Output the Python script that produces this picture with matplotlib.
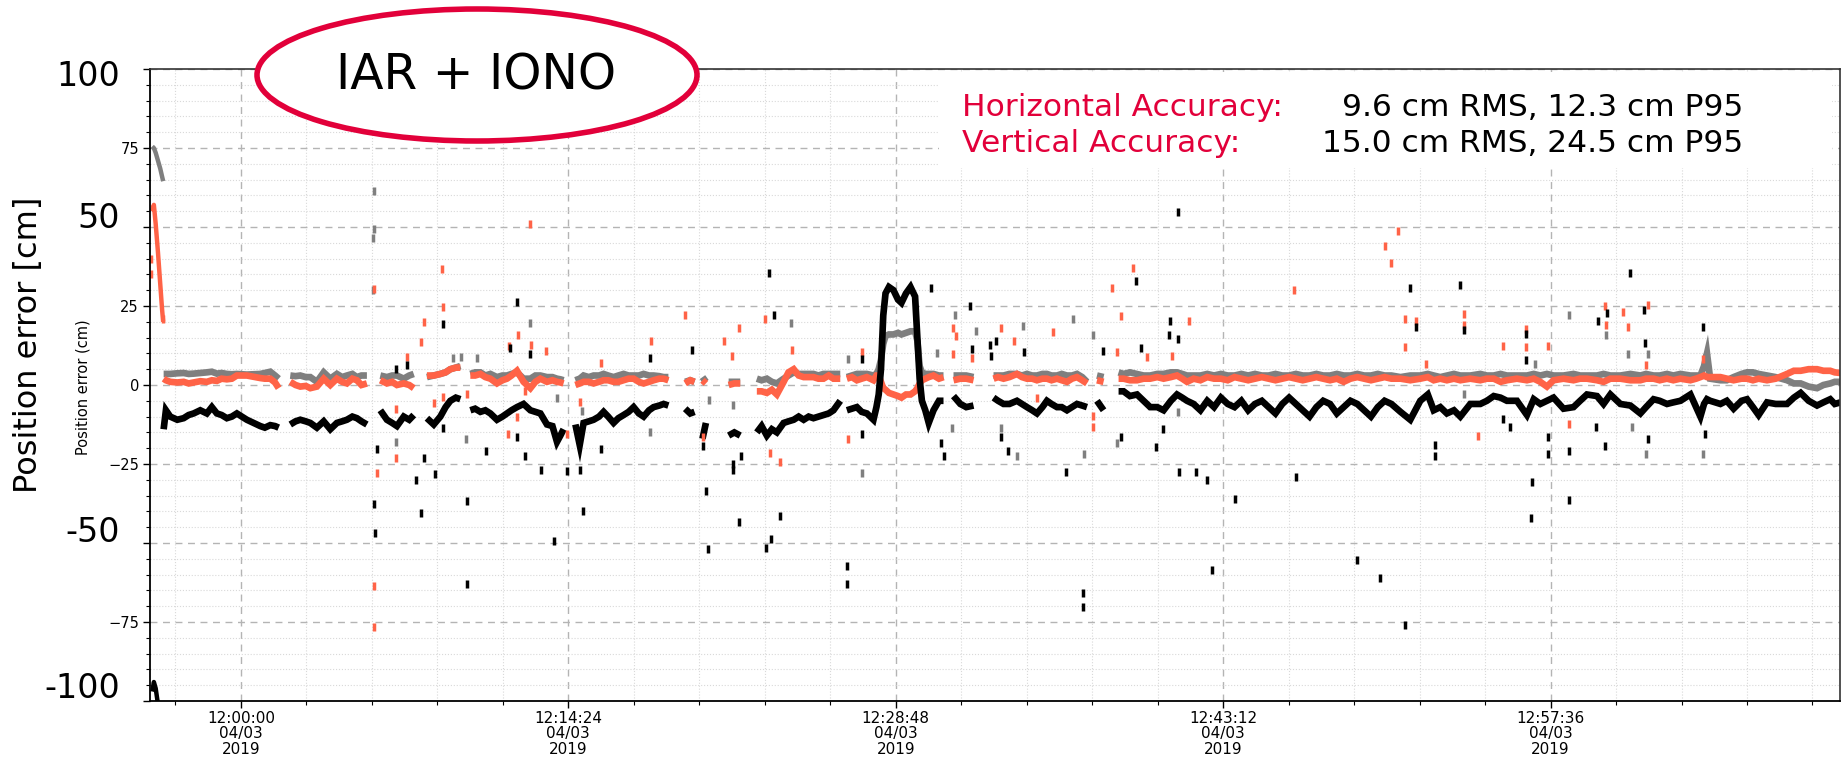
import numpy as np
import pandas as pd
import matplotlib
matplotlib.use("Agg")
import matplotlib.pyplot as plt
import matplotlib.dates as mdates
from matplotlib.patches import Ellipse, Rectangle
from matplotlib.ticker import FixedLocator, MultipleLocator, FuncFormatter

nan = np.nan
T0 = pd.Timestamp("2019-04-03 12:00:00")

# --- continuous tracks: minutes after 12:00 and error in cm (nan = no fix) ---
track_min = [
    -3.40, -3.30, -3.11, -2.80, -2.52, -2.30, -2.08, -1.79, -1.50, -1.28,
    -1.06, -0.85, -0.62, -0.40, -0.18, 0.26, 0.55, 0.85, 1.05, 1.29,
    1.50, 1.66, 1.85, 2.17, 2.40, 2.61, 2.85, 3.05, 3.34, 3.64,
    3.93, 4.22, 4.45, 4.66, 4.90, 5.10, 5.30, 5.54, 5.75, 6.13,
    6.42, 6.65, 6.86, 7.16, 7.40, 7.60, 7.80, 8.18, 8.48, 8.77,
    9.00, 9.21, 9.45, 9.65, 9.85, 10.09, 10.30, 10.53, 10.75, 10.97,
    11.26, 11.50, 11.70, 11.90, 12.14, 12.43, 12.73, 12.95, 13.17, 13.46,
    13.70, 13.90, 14.05, 14.19, 14.40, 14.71, 14.90, 15.07, 15.30, 15.51,
    15.75, 15.95, 16.15, 16.39, 16.60, 16.83, 17.05, 17.27, 17.50, 17.71,
    17.95, 18.15, 18.40, 18.59, 18.80, 19.10, 19.54, 19.76, 19.95, 20.10,
    20.30, 20.45, 20.60, 21.45, 21.70, 21.96, 22.15, 22.69, 22.90, 23.13,
    23.35, 23.57, 23.87, 24.08, 24.31, 24.53, 24.75, 24.97, 25.18, 25.40,
    25.62, 25.85, 26.06, 26.36, 26.50, 26.65, 26.87, 27.09, 27.30, 27.53,
    27.82, 27.95, 28.05, 28.15, 28.25, 28.35, 28.50, 28.70, 28.90, 29.05,
    29.25, 29.45, 29.65, 29.75, 29.85, 29.95, 30.10, 30.25, 30.46, 30.70,
    30.90, 31.10, 31.34, 31.64, 31.90, 32.22, 32.50, 33.10, 33.30, 33.54,
    33.80, 34.13, 34.35, 34.57, 34.80, 35.01, 35.25, 35.45, 35.65, 35.89,
    36.10, 36.33, 36.55, 36.77, 37.00, 37.21, 37.40, 37.65, 37.94, 38.10,
    38.60, 38.82, 39.10, 39.41, 39.70, 39.99, 40.30, 40.58, 40.90, 41.17,
    41.40, 41.61, 41.90, 42.20, 42.50, 42.80, 43.10, 43.40, 43.70, 44.00,
    44.30, 44.60, 44.90, 45.20, 45.50, 45.80, 46.10, 46.40, 46.70, 47.00,
    47.30, 47.60, 47.90, 48.20, 48.50, 48.80, 49.10, 49.40, 49.70, 50.00,
    50.30, 50.60, 51.00, 51.43, 51.87, 52.20, 52.46, 52.75, 53.04, 53.35,
    53.63, 54.07, 54.51, 54.80, 55.10, 55.40, 55.68, 56.12, 56.56, 56.86,
    57.15, 57.44, 57.73, 58.17, 58.61, 58.90, 59.20, 59.64, 59.93, 60.23,
    60.67, 61.11, 61.55, 61.80, 62.13, 62.40, 62.72, 63.00, 63.31, 63.75,
    64.00, 64.19, 64.35, 64.48, 64.62, 65.07, 65.35, 65.65, 66.00, 66.24,
    66.50, 66.75, 67.12, 67.50, 68.00, 68.30, 68.60, 68.95, 69.32, 69.60,
    69.90, 70.10, 70.35,
]

north_cm = [
    3.5, 3.5, 3.5, 3.7, 3.8, 3.5, 3.6, 3.8, 4.0, 4.2,
    3.6, 3.8, 3.5, 3.4, 3.5, 3.3, 3.4, 3.5, 3.8, 4.2,
    3.0, 2.0, nan, 3.0, 2.8, 3.0, 2.5, 2.5, 1.0, 4.0,
    2.0, 3.5, 2.5, 3.0, 3.5, 2.5, 3.0, 3.0, nan, 3.0,
    2.5, 3.0, 3.0, 2.0, 3.0, 3.5, nan, 2.5, 3.0, 3.5,
    4.0, 5.0, 5.5, 6.0, nan, 3.5, 4.0, 4.0, 3.0, 3.5,
    2.5, 3.0, 3.0, 3.5, 4.0, 2.0, 2.0, 3.0, 3.0, 2.5,
    2.5, 2.0, 1.8, 1.5, nan, 1.5, 2.0, 3.0, 2.5, 3.0,
    3.0, 3.5, 3.0, 2.5, 3.0, 3.5, 3.0, 3.0, 3.0, 3.5,
    3.0, 3.0, 2.8, 2.5, 2.5, nan, 1.0, 1.5, 1.0, nan,
    2.5, 1.0, nan, 1.0, 1.0, 1.0, nan, 2.0, 1.5, 2.0,
    1.0, 0.5, 2.0, 3.0, 4.0, 3.5, 3.5, 3.5, 3.5, 3.0,
    3.5, 3.5, 3.5, 3.5, nan, 2.5, 3.0, 3.5, 3.5, 3.5,
    3.0, 3.5, 5.0, 8.0, 13.0, 15.5, 16.0, 16.0, 16.5, 16.0,
    16.5, 17.0, 17.0, 14.0, 6.0, 4.0, 3.5, 3.5, 3.5, 3.0,
    3.0, nan, 3.0, 3.0, 3.0, 2.5, nan, 3.0, 3.0, 3.0,
    3.5, 3.5, 3.0, 3.5, 3.0, 3.0, 3.5, 3.5, 3.0, 3.0,
    3.5, 3.0, 3.0, 3.5, 2.5, 1.0, nan, 3.0, 2.5, nan,
    4.0, 3.5, 4.0, 3.5, 3.0, 3.0, 3.5, 3.5, 4.0, 4.0,
    3.5, 3.0, 3.0, 3.0, 3.5, 3.0, 3.5, 3.0, 3.0, 3.5,
    3.0, 3.5, 3.0, 3.0, 3.5, 3.0, 3.0, 3.5, 3.0, 3.0,
    3.5, 3.0, 3.0, 3.5, 3.0, 3.0, 3.5, 3.0, 3.0, 3.5,
    3.0, 3.0, 2.5, 3.0, 3.0, 3.5, 3.0, 2.5, 3.0, 3.5,
    3.0, 3.0, 3.5, 3.0, 3.0, 3.5, 3.0, 3.0, 3.0, 3.5,
    3.0, 3.5, 3.0, 3.0, 3.5, 3.0, 3.0, 3.0, 3.5, 3.0,
    3.0, 3.5, 3.0, 3.5, 3.0, 3.0, 3.5, 3.0, 3.5, 3.0,
    3.0, 3.0, 6.0, 10.0, 2.0, 1.5, 1.5, 2.5, 3.5, 4.0,
    4.0, 3.5, 3.0, 2.5, 1.5, 0.5, 0.5, -0.5, -1.0, 0.0,
    0.5, 1.0, 1.0,
]

east_cm = [
    2.0, 1.5, 1.0, 0.8, 1.0, 0.5, 0.8, 1.2, 1.0, 1.5,
    1.3, 2.0, 1.8, 2.0, 3.0, 3.0, 2.6, 2.2, 2.0, 2.0,
    0.8, -1.0, nan, 1.0, 0.0, -0.5, -0.3, -1.0, -0.5, 2.0,
    0.0, 2.0, 1.0, 0.5, 2.0, 1.5, 0.0, 0.5, nan, 1.5,
    0.5, 1.0, 0.0, 0.5, 0.0, -1.0, nan, 3.0, 3.0, 3.5,
    4.0, 5.0, 5.5, 5.5, nan, 3.0, 3.0, 3.5, 2.5, 2.0,
    0.5, 1.5, 2.0, 3.0, 4.5, 1.0, -1.0, 1.0, 2.0, 1.0,
    1.5, 1.0, 0.8, 0.5, nan, 0.0, 0.5, 1.0, 1.0, 0.5,
    1.0, 1.5, 1.5, 1.0, 1.0, 1.5, 2.0, 2.0, 1.0, 0.5,
    1.0, 1.5, 2.0, 2.0, 1.5, nan, 0.5, 1.5, 1.0, nan,
    1.5, 0.5, nan, 0.0, 0.5, 0.5, nan, -2.0, -2.0, -2.5,
    -1.5, -3.0, 1.0, 4.0, 5.0, 3.0, 2.5, 2.5, 2.5, 2.0,
    2.0, 3.0, 2.0, 2.0, nan, 2.0, 2.5, 1.5, 2.0, 2.5,
    1.5, 3.0, 3.0, 1.0, -1.0, -1.5, -2.5, -3.0, -3.5, -4.0,
    -3.0, -3.0, -2.0, -1.0, 0.5, 1.5, 2.0, 2.5, 3.0, 2.0,
    2.5, nan, 1.5, 2.0, 2.0, 1.5, nan, 2.0, 2.5, 2.0,
    2.5, 3.5, 2.5, 2.0, 2.0, 1.5, 2.0, 2.0, 1.5, 2.0,
    1.5, 1.0, 2.0, 2.5, 1.5, 0.5, nan, 1.5, 1.0, nan,
    2.0, 2.0, 1.5, 1.5, 2.0, 2.0, 2.5, 2.0, 2.5, 3.0,
    2.0, 1.0, 2.0, 1.5, 2.5, 2.0, 2.0, 1.5, 2.5, 2.0,
    1.5, 2.0, 2.5, 2.0, 1.5, 2.0, 2.5, 2.0, 1.5, 2.0,
    2.5, 2.0, 1.5, 2.0, 1.0, 2.0, 2.5, 2.0, 1.5, 2.0,
    2.5, 2.0, 2.0, 1.5, 2.0, 2.5, 1.5, 2.0, 1.5, 2.0,
    1.5, 2.0, 1.5, 2.0, 2.0, 1.0, 1.5, 2.0, 1.5, 2.0,
    1.0, -0.5, 1.5, 2.0, 1.5, 2.0, 2.0, 1.5, 1.0, 2.0,
    2.0, 1.5, 1.5, 2.0, 2.0, 1.5, 2.0, 1.5, 2.0, 1.5,
    2.0, 2.5, 3.0, 2.5, 2.5, 2.5, 2.0, 1.5, 2.0, 2.0,
    1.5, 2.0, 1.5, 2.0, 3.5, 4.5, 4.5, 5.0, 5.0, 4.5,
    4.5, 4.0, 3.8,
]

up_cm = [
    -14, -8, -10, -11, -10.5, -9.5, -9, -8, -9, -7,
    -9, -9.5, -10.5, -10, -9, -11, -12, -13, -13.5, -12.7,
    -13, -13.5, nan, -12.5, -11.5, -11, -11.5, -12, -13.5, -11.5,
    -14, -12, -11.5, -11, -10, -10.5, -11.5, -12.5, nan, -8,
    -11, -12, -13, -10, -11, -9.5, nan, -10.5, -12.5, -10,
    -7, -5, -4, -4.5, nan, -8, -7.5, -8.5, -8, -9,
    -11, -10, -9, -8, -7, -6, -8, -8.5, -9, -12.5,
    -13, -18, -16, -14, nan, -12.5, -19, -12, -11.5, -11,
    -10, -8.5, -10, -12, -10.5, -9.5, -8.5, -7, -9, -10,
    -8, -7, -6.5, -6, -6.5, nan, -7.5, -9, -8.5, nan,
    -17, -12, nan, -16, -15, -16, nan, -15, -13, -16,
    -14, -15, -12, -11.5, -11, -10, -11, -10, -10.5, -10,
    -9.5, -9, -8, -5, nan, -8, -7.5, -7, -8.5, -9,
    -11, -7, -3, 5, 22, 29, 31, 30, 27, 26,
    29, 31, 28, 15, 2, -5, -8, -12, -8, -5,
    -5, nan, -3.5, -6, -7, -6.5, nan, -4, -5, -6,
    -6, -5, -6, -7, -8, -9, -7, -5, -6, -7,
    -7, -8, -7, -6, -6.5, -7, nan, -5, -8, nan,
    -2, -2, -3.5, -3, -5, -7, -7, -8, -5, -3,
    -4, -5, -6, -8, -5, -7, -4, -6, -7, -5,
    -8, -6, -5, -7, -9, -6, -4, -6, -8, -10,
    -7, -5, -6, -9, -7, -5, -6, -8, -10, -7,
    -5, -6, -8.5, -11, -5, -3, -8, -7, -9, -8,
    -10, -6, -6, -5, -3.5, -4, -5, -5, -9.5, -4.5,
    -6, -5, -4, -7.5, -7, -5, -3, -3.5, -6, -3,
    -6, -6.5, -9, -7, -4.5, -5, -6, -5.5, -5, -3,
    -7, -10, -6, -4.5, -5, -6, -5, -7.5, -5, -4.5,
    -7, -9.5, -5.5, -6, -6, -4, -2.5, -5, -6.5, -5.5,
    -4.5, -6, -5.5,
]

# convergence right after start-up
lead_min = [-3.90, -3.83, -3.75, -3.65, -3.55, -3.47, -3.42]
lead_north = [75.5, 75.0, 73.5, 71.0, 68.5, 66.0, 64.5]
lead_east = [55.0, 57.0, 51.0, 42.0, 32.0, 24.0, 20.0]
lead_up = [-97, -94, -96, -101, nan, nan, nan]

# isolated epochs (minutes, cm)
north_spk_min = [5.85, 5.85, 5.80, 5.80, 6.83, 9.33, 9.70, 9.90, 10.38, 12.73,
                 13.90, 15.00, 18.00, 20.60, 21.65, 24.19, 26.72, 27.31, 30.60, 31.27,
                 31.42, 32.34, 33.42, 34.13, 34.39, 36.59, 37.10, 37.47, 38.53, 41.20,
                 53.80, 56.90, 58.40, 60.05, 61.00, 61.20, 61.80, 61.90, 64.30]
north_spk_cm = [61.4, 49.5, 46.4, 30.0, -18.0, 8.6, 9.0, -17.2, 8.6, 19.7,
                -4.2, -8.2, -15.0, -4.8, -6.3, 19.7, 8.1, -28.0, 10.2, -13.5,
                22.0, 17.0, -13.5, -22.5, 18.6, 21.0, -21.7, 15.8, -18.2, -8.4,
                -2.8, 6.7, 22.0, 15.7, 9.9, -13.4, -21.9, 9.9, -21.8]

east_spk_min = [-3.95, -3.95, -3.43, 5.86, 5.86, 5.86, 5.98, 6.83, 6.83, 7.30,
                7.90, 8.04, 8.84, 8.90, 8.47, 8.90, 9.95, 11.80, 12.17, 12.72,
                12.77, 13.43, 12.50, 12.14, 11.73, 14.34, 14.93, 15.84, 18.03, 19.54,
                20.32, 21.23, 21.60, 21.90, 23.03, 23.28, 23.72, 24.23, 26.68, 27.31,
                31.31, 31.46, 31.30, 32.15, 33.44, 33.98, 35.01, 35.70, 37.47, 37.47,
                38.53, 38.70, 39.85, 40.95, 41.68, 46.30, 50.30, 50.60, 50.90, 51.20,
                51.20, 51.70, 52.10, 53.80, 53.80, 54.40, 55.50, 56.50, 56.50, 57.50,
                58.40, 60.00, 60.05, 61.00, 61.90, 61.80, 64.30, 38.30, 39.25, 60.80]
east_spk_cm = [40.0, 35.0, 21.0, 30.5, -63.7, -76.6, -27.7, -7.7, -23.0, 9.0,
               13.5, 20.0, 36.8, 24.7, -5.6, -3.8, -2.7, 12.3, 15.8, 50.9,
               12.8, 10.7, -2.0, -10.0, -15.6, -15.4, -5.3, 7.0, 14.0, 22.0,
               -16.4, 14.0, 9.2, 18.0, 21.0, -21.4, -24.5, 11.0, -17.2, 10.5,
               18.0, 15.5, 9.7, 8.6, 18.0, 14.0, -4.0, 16.7, -9.8, -13.3,
               10.5, 21.8, 9.0, 9.2, 20.2, 30.0, 44.0, 38.6, 48.7, 21.0,
               12.0, 20.4, 6.7, 22.5, 18.9, -16.0, 12.5, 17.8, 12.0, 12.5,
               -12.3, 24.9, 18.9, 18.3, 25.2, 6.2, 8.3, 30.8, 37.1, 23.0]

up_spk_min = [5.86, 5.90, 5.98, 6.83, 7.30, 7.70, 7.92, 8.03, 8.52, 8.90,
              8.90, 9.94, 9.94, 10.80, 11.82, 12.14, 12.73, 12.50, 12.14, 13.20,
              13.76, 14.34, 14.90, 15.05, 15.84, 18.00, 19.83, 20.32, 20.45, 20.55,
              21.64, 21.64, 21.99, 21.90, 23.10, 23.30, 23.70, 23.24, 23.43, 27.31,
              27.31, 26.65, 26.65, 30.34, 30.80, 30.93, 32.05, 32.15, 32.96, 33.20,
              33.00, 33.42, 33.75, 34.42, 36.30, 37.03, 37.03, 37.91, 38.70, 39.36,
              39.60, 40.26, 40.55, 40.87, 40.80, 41.20, 41.20, 41.26, 42.00, 42.70,
              42.50, 43.70, 46.40, 49.10, 50.10, 51.20, 51.40, 51.70, 52.50, 52.50,
              53.60, 53.80, 55.50, 55.80, 56.50, 56.50, 56.80, 56.76, 57.50, 57.50,
              58.40, 58.40, 59.60, 59.70, 60.00, 60.10, 61.10, 61.70, 61.75, 61.90,
              64.30, 64.40]
up_spk_cm = [-37.5, -46.7, -20.3, 5.0, 6.3, -30.0, -40.6, -23.0, -28.2, 19.4,
             -13.5, -36.6, -63.0, -20.8, 11.8, 26.3, 9.7, -22.4, -16.6, -26.8,
             -49.3, -27.2, -26.8, -39.8, -20.3, 8.6, 11.0, -19.3, -33.4, -51.8,
             -25.0, -27.0, -22.4, -43.2, -51.7, -48.7, -41.3, 35.3, 22.0, -15.4,
             8.1, -57.3, -63.0, 30.8, -18.2, -22.4, 24.9, 11.3, 12.8, 14.0,
             9.2, -16.4, -21.0, 10.5, -27.5, -65.9, -70.4, 10.7, -16.4, 33.0,
             11.7, -19.6, -14.0, 20.2, 15.8, 14.7, 54.7, -27.4, -27.4, -58.5,
             -30.0, -36.0, -29.0, -55.5, -61.0, -76.0, 30.8, 18.3, -18.9, -22.4,
             31.5, 17.3, -10.7, -13.4, 16.2, 7.8, -30.8, -42.0, -16.5, -21.8,
             -20.8, -36.4, -13.4, 20.4, -19.2, 22.7, 35.3, 23.6, 13.3, -17.1,
             18.5, -15.5]

accuracy_rows = [
    ("Horizontal Accuracy:", "9.6 cm RMS, 12.3 cm P95"),
    ("Vertical Accuracy:", "15.0 cm RMS, 24.5 cm P95"),
]

C_NORTH = "#7f7f7f"
C_EAST = "#ff6347"
C_UP = "#000000"
C_RED = "#e2003a"

W, H = 1847, 758


def to_time(minutes):
    return T0 + pd.to_timedelta(np.asarray(minutes, dtype=float), unit="min")


def fx(px):
    return px / W


def fy(py):
    return 1 - py / H


fig = plt.figure(figsize=(W / 100, H / 100), dpi=100)
ax = fig.add_axes([fx(150), fy(701), fx(1840) - fx(150), fy(69) - fy(701)])

for vals, lead, col in [(north_cm, lead_north, C_NORTH),
                        (east_cm, lead_east, C_EAST),
                        (up_cm, lead_up, C_UP)]:
    ax.plot(to_time(lead_min), lead, color=col, lw=3.2, solid_capstyle="butt")
    ax.plot(to_time(track_min), vals, color=col, lw=4.8, solid_capstyle="butt",
            solid_joinstyle="miter")

for tm, cm, col in [(north_spk_min, north_spk_cm, C_NORTH),
                    (east_spk_min, east_spk_cm, C_EAST),
                    (up_spk_min, up_spk_cm, C_UP)]:
    ax.plot(to_time(tm), cm, ls="none", marker="|", ms=5.5, mew=2.5, color=col)

# axes limits and ticks
x0 = mdates.date2num(T0 - pd.Timedelta(minutes=4.0))
x1 = mdates.date2num(T0 + pd.Timedelta(minutes=70.33))
ax.set_xlim(x0, x1)
ax.set_ylim(-100, 100)

major_x = [mdates.date2num(T0 + pd.Timedelta(seconds=864 * k)) for k in range(0, 5)]
minor_x = [mdates.date2num(T0 + pd.Timedelta(seconds=172.8 * k)) for k in range(-1, 25)]
ax.xaxis.set_major_locator(FixedLocator(major_x))
ax.xaxis.set_minor_locator(FixedLocator(minor_x))
ax.xaxis.set_major_formatter(mdates.DateFormatter("%H:%M:%S\n%m/%d\n%Y"))

ax.yaxis.set_major_locator(MultipleLocator(25))
ax.yaxis.set_minor_locator(MultipleLocator(5))


def ylab(v, pos):
    if abs(v) in (50, 100):
        return ""
    return f"{v:g}".replace("-", "\u2212")


ax.yaxis.set_major_formatter(FuncFormatter(ylab))
ax.tick_params(axis="y", which="major", labelsize=10.5, length=5, width=1.0, pad=3)
ax.tick_params(axis="x", which="major", labelsize=11, length=5, width=1.0, pad=2)
ax.tick_params(axis="both", which="minor", length=3, width=0.8)
for lab in ax.get_xticklabels():
    lab.set_horizontalalignment("center")
    lab.set_linespacing(1.05)

ax.grid(True, which="major", color="#b4b4b4", lw=1.0, ls=(0, (5, 4)))
ax.grid(True, which="minor", color="#d9d9d9", lw=0.8, ls=":")
ax.set_axisbelow(True)
for side in ("top", "right"):
    ax.spines[side].set_color("#333333")
    ax.spines[side].set_linewidth(1.2)
for side in ("left", "bottom"):
    ax.spines[side].set_color("black")
    ax.spines[side].set_linewidth(1.3)

ax.set_ylabel("Position error (cm)", fontsize=10.5)
ax.yaxis.set_label_coords((91 - 150) / (1840 - 150), (701 - 387) / (701 - 69))

# large overlay scale and title
for txt, py in [("100", 76), ("50", 218), ("-50", 533), ("-100", 688)]:
    fig.text(fx(120), fy(py), txt, fontsize=24, ha="right", va="center", zorder=6)
fig.text(fx(29), fy(345), "Position error [cm]", fontsize=23, rotation=90,
         ha="center", va="center", zorder=6)

ring = Ellipse((fx(477), fy(75)), width=fx(440), height=132 / H,
               transform=fig.transFigure, facecolor="white", edgecolor=C_RED,
               lw=4.0, zorder=5)
fig.add_artist(ring)
fig.text(fx(476), fy(76), "IAR + IONO", fontsize=35, ha="center", va="center",
         zorder=6)

box = Rectangle((fx(939), fy(168)), fx(1832) - fx(939), (168 - 72) / H,
                transform=fig.transFigure, facecolor="white", edgecolor="none",
                zorder=5)
fig.add_artist(box)
for (name, stats), py in zip(accuracy_rows, [107, 144]):
    fig.text(fx(962), fy(py), name, color=C_RED, fontsize=22.5,
             ha="left", va="center", zorder=6)
    fig.text(fx(1743), fy(py), stats, color="black", fontsize=22.5,
             ha="right", va="center", zorder=6)

fig.savefig("out.png", dpi=100)
